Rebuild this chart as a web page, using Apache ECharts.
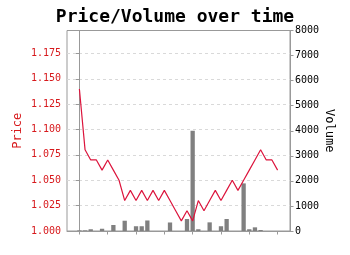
<!DOCTYPE html>
<html><head><meta charset="utf-8">
<script src="https://cdn.jsdelivr.net/npm/echarts@6/dist/echarts.min.js"></script>
<style>html,body{margin:0;padding:0;background:#fff}#c{width:350px;height:255px}</style>
</head><body><div id="c"></div>
<script>
var idx = [];
for (var k = 0; k < 36; k++) idx.push(k);
var price = [1.14,1.08,1.07,1.07,1.06,1.07,1.06,1.05,1.03,1.04,1.03,1.04,1.03,1.04,1.03,1.04,1.03,1.02,1.01,1.02,1.01,1.03,1.02,1.03,1.04,1.03,1.04,1.05,1.04,1.05,1.06,1.07,1.08,1.07,1.07,1.06];
var volume = [25,25,70,0,90,0,240,0,410,0,190,190,420,0,0,0,340,0,0,480,4000,70,0,345,0,190,480,0,0,1900,70,146,40,0,0,0];
var xTicks = [0,5,10,15,20,25,30,35];
var priceTicks = [1.000,1.025,1.050,1.075,1.100,1.125,1.150,1.175];

var mono = 'DejaVu Sans Mono';
var chart = echarts.init(document.getElementById('c'), null, {renderer:'canvas'});
chart.setOption({
  animation:false,
  backgroundColor:'#fff',
  title:{text:'Price/Volume over time', left:'center', top:3,
    textStyle:{fontFamily:mono, fontWeight:'bold', fontSize:18, color:'#000'}},
  grid:{left:67, right:60, top:30.5, bottom:24, show:true, borderColor:'#999', borderWidth:1, backgroundColor:'transparent'},
  xAxis:{type:'value', min:-2.19, max:37.19,
    axisLine:{show:true, lineStyle:{color:'#999'}},
    axisTick:{show:true, customValues:xTicks, length:3.5, lineStyle:{color:'#999'}},
    axisLabel:{show:false}, splitLine:{show:false}},
  yAxis:[{type:'value', position:'left', min:1.0, max:1.1976, interval:0.025,
    name:'Price', nameLocation:'middle', nameRotate:90, nameGap:43, nameMoveOverlap:false,
    nameTextStyle:{fontFamily:mono, fontSize:12, color:'#d7191c'},
    axisLine:{show:true, lineStyle:{color:'#999'}},
    axisTick:{show:true, customValues:priceTicks, length:3.5, lineStyle:{color:'#999'}},
    axisLabel:{customValues:priceTicks, fontFamily:mono, fontSize:10, color:'#d7191c', margin:6,
      formatter:function(v){return v.toFixed(3);}},
    splitLine:{show:true, lineStyle:{color:'#d9d9d9', type:[3,3], width:1}}},
   {type:'value', position:'right', min:0, max:8000, interval:1000,
    name:'Volume', nameLocation:'middle', nameRotate:-90, nameGap:33, nameMoveOverlap:false,
    nameTextStyle:{fontFamily:mono, fontSize:12, color:'#000'},
    axisLine:{show:true, lineStyle:{color:'#999'}},
    axisTick:{show:true, length:3.5, lineStyle:{color:'#999'}},
    axisLabel:{fontFamily:mono, fontSize:10, color:'#000', margin:5,
      formatter:function(v){return String(v);}},
    splitLine:{show:false}}],
  series:[
    {type:'bar', yAxisIndex:1, barWidth:4.3, data:idx.map(function(i){return [i, volume[i]];}),
      itemStyle:{color:'#808080'}, z:2},
    {type:'line', yAxisIndex:0, symbol:'none', data:idx.map(function(i){return [i, price[i]];}),
      lineStyle:{color:'#dc143c', width:1.2}, z:3}
  ]
});
</script></body></html>
